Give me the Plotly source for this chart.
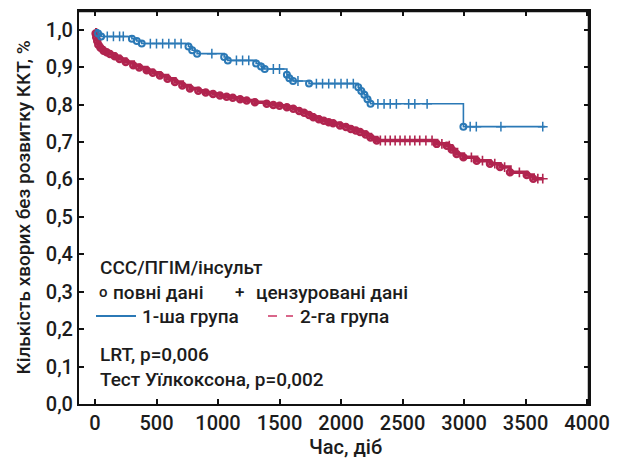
import plotly.graph_objects as go

# ---------------- data ----------------
g1_time = [0, 25, 50, 300, 340, 380, 760, 790, 830, 1050, 1080, 1310, 1350, 1380,
           1560, 1580, 1610, 1740, 2140, 2165, 2190, 2215, 2240, 2995, 3660]
g1_surv = [1.000, 0.990, 0.982, 0.976, 0.970, 0.963, 0.955, 0.945, 0.936, 0.927, 0.918,
           0.910, 0.902, 0.895, 0.880, 0.870, 0.863, 0.856, 0.846, 0.836, 0.826, 0.814,
           0.802, 0.741, 0.741]
g1_cens_time = [100, 150, 200, 230, 450, 500, 550, 600, 650, 700, 950, 1150, 1200, 1250,
                1450, 1500, 1650, 1800, 1850, 1900, 1950, 2000, 2050, 2100, 2300, 2350,
                2400, 2450, 2550, 2600, 2700, 3050, 3100, 3300, 3640]

g2_time = [0, 5, 10, 18, 27, 45, 70, 95, 122, 160, 200, 250, 311, 360, 420, 470, 528,
           590, 650, 710, 772, 840, 900, 960, 1016, 1070, 1120, 1180, 1233, 1300, 1396,
           1450, 1500, 1560, 1612, 1660, 1700, 1740, 1775, 1820, 1860, 1900, 1936, 1992,
           2040, 2080, 2120, 2155, 2200, 2240, 2290, 2778, 2860, 2900, 2940, 2995, 3103,
           3211, 3293, 3374, 3510, 3563, 3645]
g2_surv = [1.000, 0.990, 0.980, 0.970, 0.960, 0.952, 0.944, 0.940, 0.935, 0.929, 0.922,
           0.914, 0.905, 0.899, 0.892, 0.885, 0.878, 0.869, 0.860, 0.851, 0.843, 0.837,
           0.832, 0.828, 0.824, 0.821, 0.818, 0.814, 0.811, 0.806, 0.802, 0.799, 0.797,
           0.793, 0.789, 0.783, 0.778, 0.772, 0.766, 0.761, 0.757, 0.753, 0.750, 0.744,
           0.740, 0.735, 0.731, 0.727, 0.720, 0.712, 0.704, 0.695, 0.690, 0.680, 0.668,
           0.659, 0.650, 0.642, 0.633, 0.619, 0.612, 0.602, 0.602]
g2_cens_time = [2320, 2360, 2400, 2440, 2480, 2520, 2560, 2600, 2640, 2690, 2740, 2820,
                2880, 3060, 3150, 3250, 3330, 3450, 3600, 3640]

x_ticks = [0, 500, 1000, 1500, 2000, 2500, 3000, 3500, 4000]
y_ticks = [0.0, 0.1, 0.2, 0.3, 0.4, 0.5, 0.6, 0.7, 0.8, 0.9, 1.0]

BLUE = "#2b79b6"
RED = "#b1244f"
FONT = "Roboto"
TXT = "#1c1c1c"
FRAME = "#111111"


def surv_at(times, survs, t):
    v = survs[0]
    for ti, si in zip(times, survs):
        if ti <= t:
            v = si
    return v


g1_cens_surv = [surv_at(g1_time, g1_surv, t) for t in g1_cens_time]
g2_cens_surv = [surv_at(g2_time, g2_surv, t) for t in g2_cens_time]

fig = go.Figure()

fig.add_trace(go.Scatter(x=g2_time, y=g2_surv, mode="lines", line_shape="hv",
                         line=dict(color=RED, width=3.5), hoverinfo="skip"))
fig.add_trace(go.Scatter(x=g2_time[1:-1], y=g2_surv[1:-1], mode="markers",
                         marker=dict(symbol="circle-open", size=6, color=RED,
                                     line=dict(width=2.5, color=RED))))
fig.add_trace(go.Scatter(x=g2_cens_time, y=g2_cens_surv, mode="markers",
                         marker=dict(symbol="cross-thin", size=7,
                                     line=dict(width=1.6, color=RED))))

fig.add_trace(go.Scatter(x=g1_time, y=g1_surv, mode="lines", line_shape="hv",
                         line=dict(color=BLUE, width=1.6), hoverinfo="skip"))
fig.add_trace(go.Scatter(x=g1_time[1:-1], y=g1_surv[1:-1], mode="markers",
                         marker=dict(symbol="circle-open", size=6, color=BLUE,
                                     line=dict(width=2, color=BLUE))))
fig.add_trace(go.Scatter(x=g1_cens_time, y=g1_cens_surv, mode="markers",
                         marker=dict(symbol="cross-thin", size=7,
                                     line=dict(width=1.5, color=BLUE))))


def px_x(p):
    return (p - 79) / 510.0


def px_y(p):
    return (404 - p) / 393.0


def ann(x, y, text, size=19):
    fig.add_annotation(x=px_x(x), y=px_y(y), xref="paper", yref="paper", text=text,
                       showarrow=False, xanchor="left", yanchor="middle",
                       font=dict(family=FONT, size=size, color=TXT, weight=500))


ann(98, 267, "ССС/ПГІМ/інсульт")
ann(97, 292, "o", size=15)
ann(111, 292, "повні дані")
ann(233, 292, "+", size=17)
ann(254, 292, "цензуровані дані")
ann(140, 316, "1-ша група")
ann(298, 316, "2-га група")
ann(98, 354, "LRT, p=0,006")
ann(98, 379, "Тест Уїлкоксона, p=0,002")

fig.add_annotation(x=px_x(345), y=px_y(447), xref="paper", yref="paper", text="Час, діб",
                   showarrow=False, xanchor="center", yanchor="middle",
                   font=dict(family=FONT, size=20, color=TXT, weight=500))

fig.add_shape(type="line", xref="paper", yref="paper", x0=px_x(96), x1=px_x(136),
              y0=px_y(316), y1=px_y(316), line=dict(color=BLUE, width=2))
fig.add_shape(type="line", xref="paper", yref="paper", x0=px_x(268), x1=px_x(293),
              y0=px_y(316), y1=px_y(316), line=dict(color="#d9668a", width=2, dash="dash"))

# explicit top and right frame lines
fig.add_shape(type="line", xref="paper", yref="paper", x0=0, x1=1, y0=1, y1=1,
              line=dict(color=FRAME, width=2.5), layer="above")
fig.add_shape(type="line", xref="paper", yref="paper", x0=1, x1=1, y0=0, y1=1,
              line=dict(color=FRAME, width=2.5), layer="above")

axis_common = dict(showline=True, linecolor=FRAME, linewidth=2, mirror="allticks",
                   ticks="inside", ticklen=5, tickwidth=1.5, tickcolor=FRAME,
                   showgrid=False, zeroline=False,
                   tickfont=dict(family=FONT, size=20, color=TXT, weight=500))

fig.update_layout(
    xaxis=dict(range=[-130, 4016], tickvals=x_ticks, ticktext=[str(v) for v in x_ticks],
               **axis_common),
    yaxis=dict(range=[0, 1.05], tickvals=y_ticks,
               ticktext=[f"{v:.1f}".replace(".", ",") for v in y_ticks],
               title=dict(text="Кількість хворих без розвитку ККТ, %",
                          font=dict(family=FONT, size=19, color=TXT, weight=500),
                          standoff=10),
               **axis_common),
)

fig.update_layout(width=617, height=464, showlegend=False,
                  margin=dict(l=79, r=28, t=11, b=60, autoexpand=False),
                  paper_bgcolor="white", plot_bgcolor="white",
                  separators=", ")

fig.write_html("out.html", config={"displayModeBar": False},
               post_script="document.body.style.margin='0';")
